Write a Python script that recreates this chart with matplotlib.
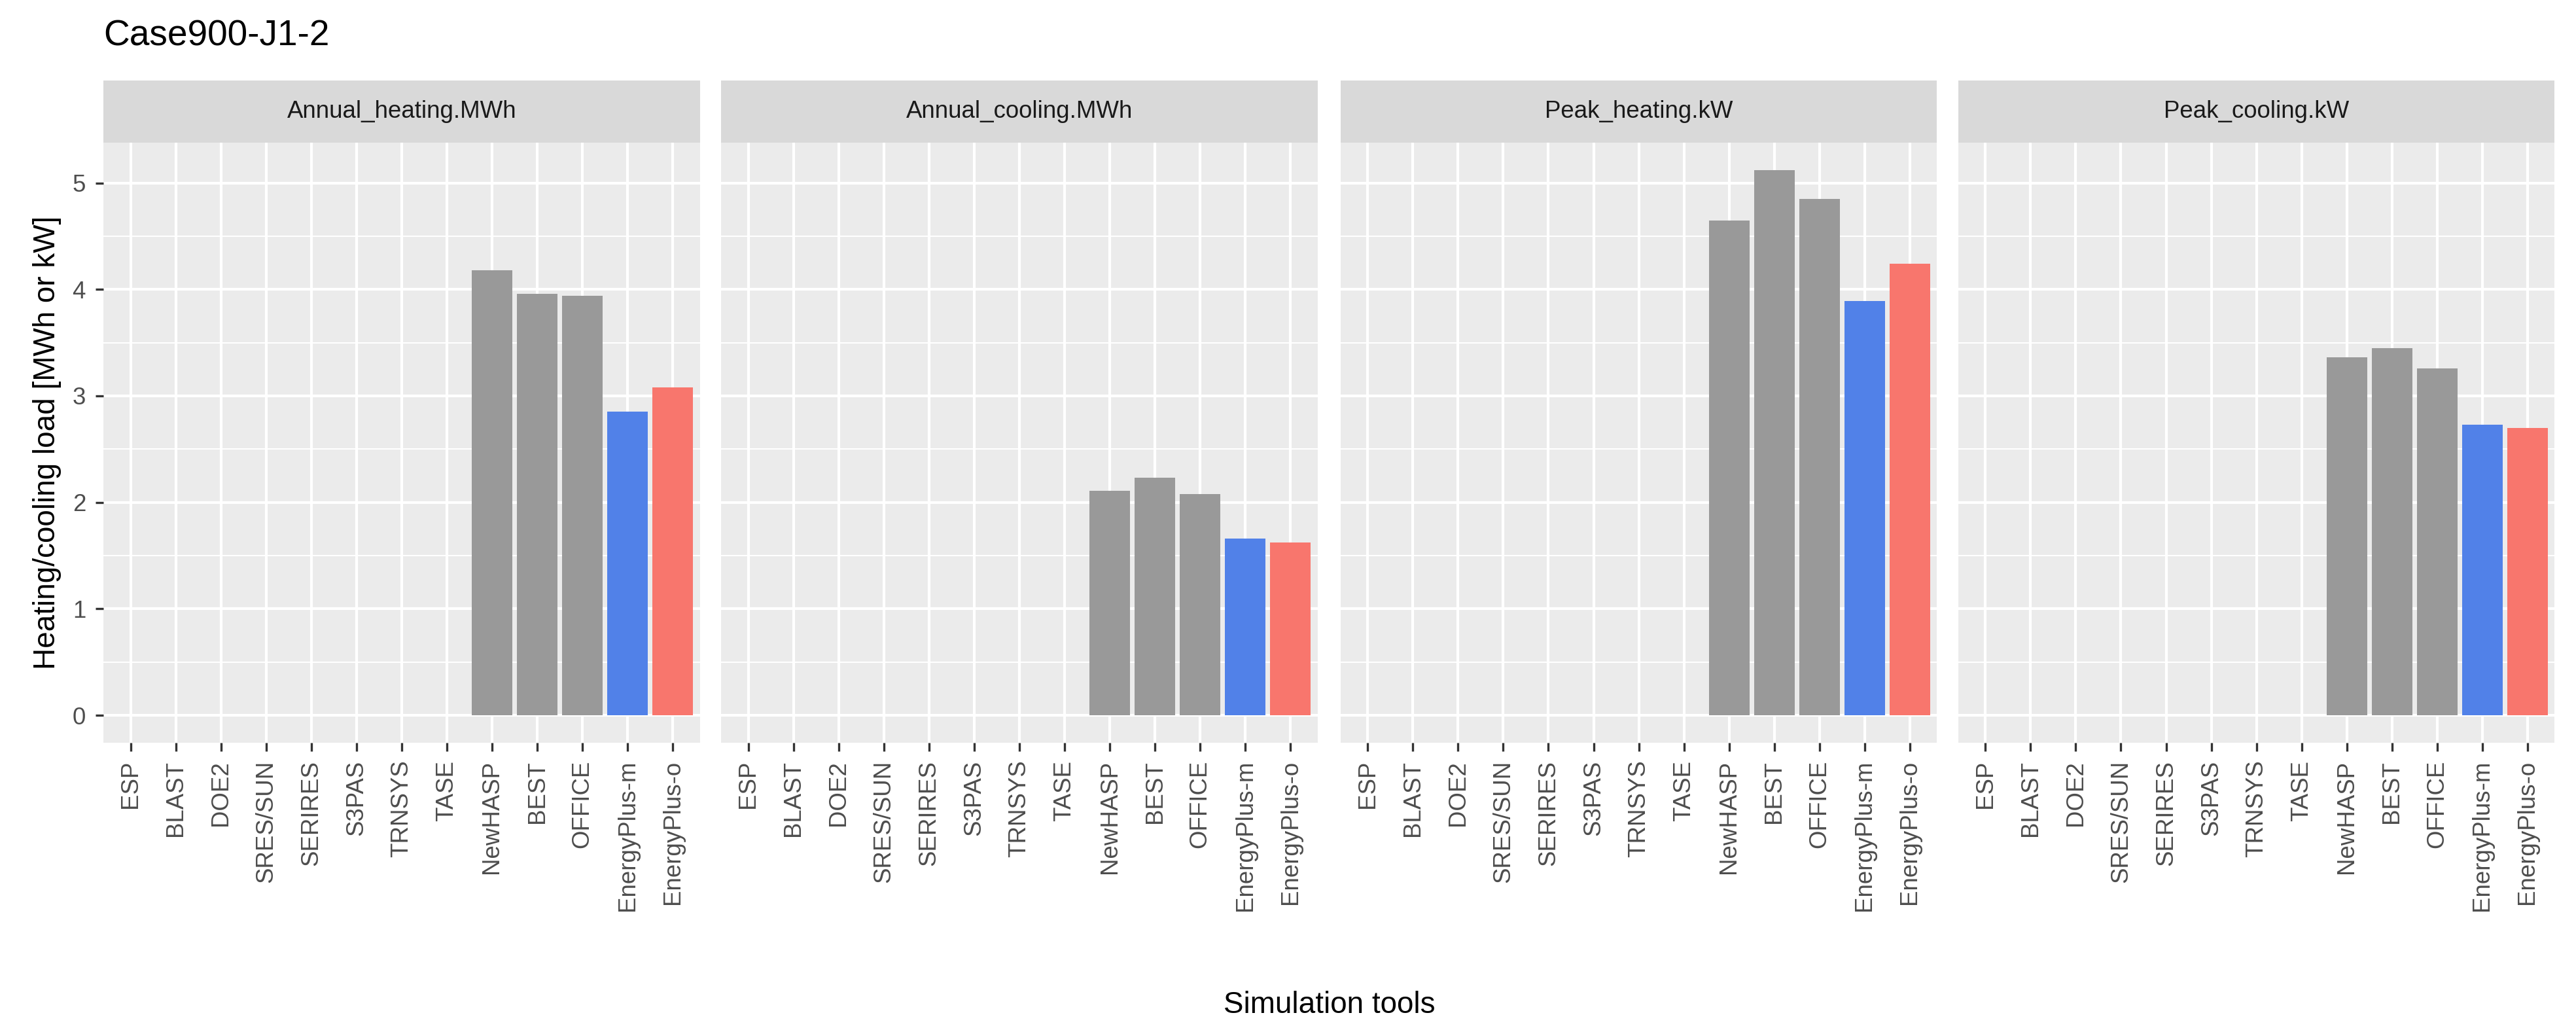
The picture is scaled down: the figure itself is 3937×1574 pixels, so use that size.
import matplotlib
matplotlib.use("Agg")
import matplotlib.pyplot as plt
import numpy as np

tools = ["ESP","BLAST","DOE2","SRES/SUN","SERIRES","S3PAS","TRNSYS","TASE","NewHASP","BEST","OFFICE","EnergyPlus-m","EnergyPlus-o"]
panels = ["Annual_heating.MWh","Annual_cooling.MWh","Peak_heating.kW","Peak_cooling.kW"]
annual_heating = [0,0,0,0,0,0,0,0,4.18,3.96,3.94,2.85,3.08]
annual_cooling = [0,0,0,0,0,0,0,0,2.11,2.23,2.08,1.66,1.62]
peak_heating   = [0,0,0,0,0,0,0,0,4.65,5.12,4.85,3.89,4.24]
peak_cooling   = [0,0,0,0,0,0,0,0,3.36,3.45,3.26,2.73,2.70]
values = [annual_heating, annual_cooling, peak_heating, peak_cooling]
colors = ["#999999"]*11 + ["#5181E8", "#F8766D"]

plt.rcParams['font.family'] = ['Liberation Sans', 'DejaVu Sans']
fig = plt.figure(figsize=(3937/300, 1574/300), dpi=300)
W, H = 1568, 627
lefts = [63, 439, 816, 1192]
pw = 363
top, bot, stript = 87, 452, 49
x = np.arange(len(tools))
for i, (name, vals) in enumerate(zip(panels, values)):
    ax = fig.add_axes([lefts[i]/W, 1-bot/H, pw/W, (bot-top)/H])
    ax.set_facecolor("#EBEBEB")
    ax.set_xlim(-0.6, len(tools)-0.4)
    ax.set_ylim(-0.256, 5.376)
    ax.set_yticks(np.arange(0, 6, 1))
    ax.set_yticks(np.arange(0.5, 5.5, 1), minor=True)
    ax.set_xticks(x)
    ax.set_xticklabels(tools, rotation=90, fontsize=8.8, color="#4D4D4D")
    ax.grid(True, which="major", color="white", lw=1.0)
    ax.grid(True, which="minor", axis="y", color="white", lw=0.5)
    ax.set_axisbelow(True)
    for s in ax.spines.values():
        s.set_visible(False)
    ax.tick_params(which="both", length=3, color="#333333", labelsize=8.8, labelcolor="#4D4D4D")
    ax.tick_params(which="minor", length=0)
    if i > 0:
        ax.tick_params(axis="y", labelleft=False, length=0)
    else:
        ax.set_ylabel("Heating/cooling load [MWh or kW]", fontsize=11)
    nz = [j for j in range(len(tools)) if vals[j] > 0]
    ax.bar([x[j] for j in nz], [vals[j] for j in nz], width=0.9, color=[colors[j] for j in nz])
    sax = fig.add_axes([lefts[i]/W, 1-top/H, pw/W, (top-stript)/H])
    sax.set_facecolor("#D9D9D9")
    sax.set_xticks([]); sax.set_yticks([])
    for s in sax.spines.values():
        s.set_visible(False)
    sax.text(0.5, 0.5, name, ha="center", va="center", fontsize=8.8, color="#1A1A1A", transform=sax.transAxes)

fig.text((63+1555)/2/W, 1-612/H, "Simulation tools", ha="center", va="center", fontsize=11)
fig.text(63/W, 1-22/H, "Case900-J1-2", ha="left", va="center", fontsize=13.2)
fig.savefig("out.png", dpi=300)
